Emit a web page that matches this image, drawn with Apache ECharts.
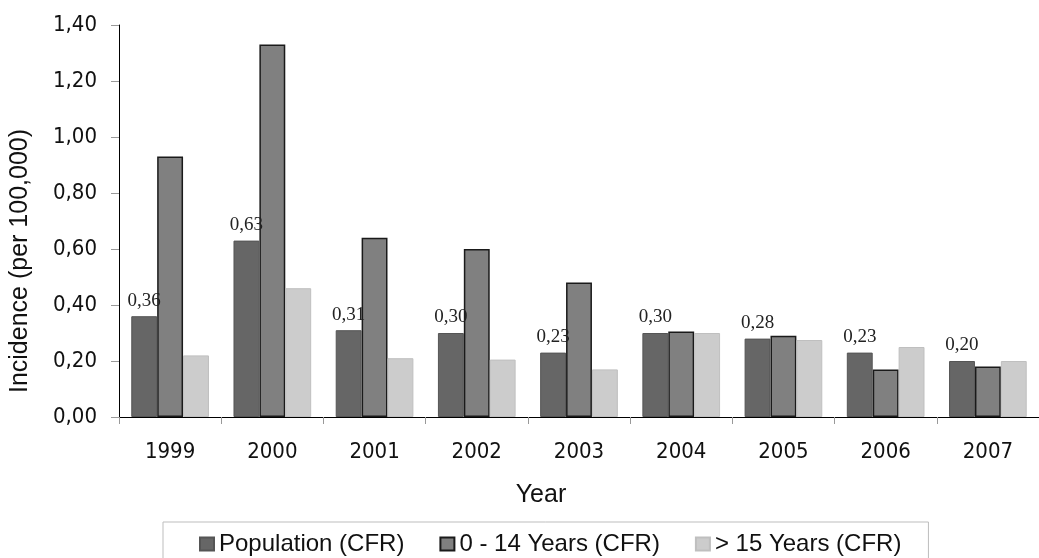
<!DOCTYPE html>
<html>
<head>
<meta charset="utf-8">
<script src="https://cdn.jsdelivr.net/npm/echarts@6/dist/echarts.min.js"></script>
<style>
html,body{margin:0;padding:0;background:#fff;}
#chart{width:1039px;height:558px;}
</style>
</head>
<body>
<div id="chart"></div>
<script>
var years = ['1999','2000','2001','2002','2003','2004','2005','2006','2007'];
var seriesNames = ['Population (CFR)', '0 - 14 Years (CFR)', '> 15 Years (CFR)'];
var population = [0.36, 0.63, 0.31, 0.30, 0.23, 0.30, 0.28, 0.23, 0.20];
var children = [0.93, 1.33, 0.64, 0.60, 0.48, 0.305, 0.29, 0.17, 0.18];
var adults = [0.22, 0.46, 0.21, 0.205, 0.17, 0.30, 0.275, 0.25, 0.20];
var yMin = 0, yMax = 1.4, yStep = 0.2;

function comma(v, d) { return Number(v).toFixed(d).replace('.', ','); }

var chart = echarts.init(document.getElementById('chart'), null, {renderer: 'canvas'});
chart.setOption({
  animation: false,
  backgroundColor: '#ffffff',
  grid: {left: 119, top: 25, width: 930, height: 392, containLabel: false},
  legend: {
    left: 163, top: 522,
    data: seriesNames,
    icon: 'rect',
    itemWidth: 14, itemHeight: 13,
    itemGap: 35,
    borderColor: '#bdbdbd', borderWidth: 1,
    padding: [10, 27, 30, 36],
    textStyle: {fontFamily: 'Liberation Sans, Arial, sans-serif', fontSize: 24, color: '#111'}
  },
  xAxis: {
    type: 'category',
    data: years,
    name: 'Year',
    nameLocation: 'middle',
    nameGap: 66,
    nameTextStyle: {fontFamily: 'Liberation Sans, Arial, sans-serif', fontSize: 25, color: '#111', padding: [0, 76, 0, 0]},
    axisLine: {lineStyle: {color: '#000', width: 1}},
    axisTick: {show: true, length: 7, lineStyle: {color: '#999'}},
    axisLabel: {margin: 24, fontFamily: 'DejaVu Sans Condensed, DejaVu Sans, sans-serif', fontSize: 22, color: '#111'}
  },
  yAxis: {
    type: 'value',
    min: yMin, max: yMax, interval: yStep,
    name: 'Incidence (per 100,000)',
    nameLocation: 'middle',
    nameGap: 86,
    nameTextStyle: {fontFamily: 'Liberation Sans, Arial, sans-serif', fontSize: 25, color: '#111', padding: [0, 80, 0, 0]},
    axisLine: {show: true, lineStyle: {color: '#000', width: 1}},
    axisTick: {show: true, length: 8, lineStyle: {color: '#999'}},
    splitLine: {show: false},
    axisLabel: {margin: 22, fontFamily: 'DejaVu Sans Condensed, DejaVu Sans, sans-serif', fontSize: 22, color: '#111',
      formatter: function (v) { return comma(v, 2); }}
  },
  series: [
    {
      name: seriesNames[0], type: 'bar', data: population,
      barGap: '0%', barCategoryGap: '24%',
      itemStyle: {color: '#666666', borderColor: '#555555', borderWidth: 1},
      label: {show: true, position: 'top', distance: 6,
        fontFamily: 'Liberation Serif, Times New Roman, serif', fontSize: 19, color: '#222',
        formatter: function (p) { return comma(p.value, 2); }}
    },
    {
      name: seriesNames[1], type: 'bar', data: children, z: 1,
      barGap: '0%', barCategoryGap: '24%',
      itemStyle: {color: '#808080', borderColor: '#1a1a1a', borderWidth: 1.5}
    },
    {
      name: seriesNames[2], type: 'bar', data: adults,
      barGap: '0%', barCategoryGap: '24%',
      itemStyle: {color: '#cccccc', borderColor: '#bfbfbf', borderWidth: 1}
    }
  ]
});
</script>
</body>
</html>
